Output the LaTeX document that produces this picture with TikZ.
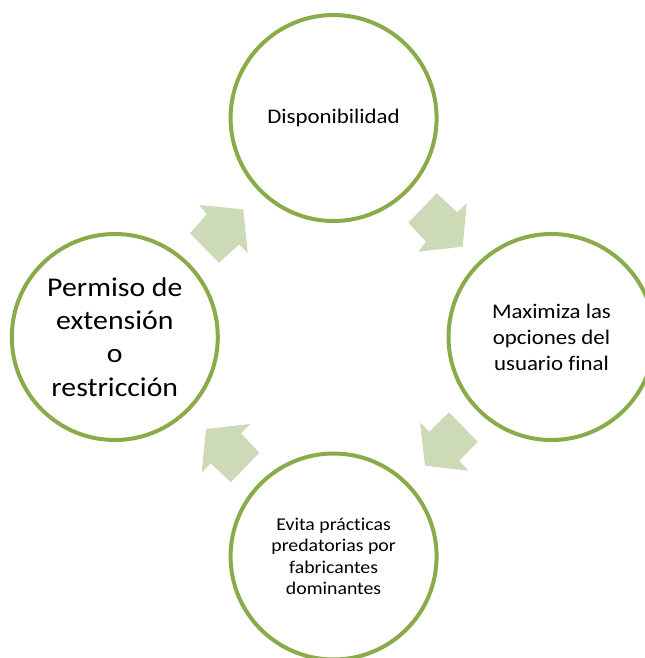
\documentclass[tikz,border=0pt]{standalone}
\usepackage{fontspec}
\setmainfont{Carlito}[FakeStretch=1.1,Ligatures=NoCommon]
\definecolor{ringc}{RGB}{138,171,74}
\definecolor{arrowc}{RGB}{205,218,183}
\begin{document}
\begin{tikzpicture}[x=0.75pt,y=-0.75pt,
  ring/.style={circle,draw=ringc,line width=3pt,minimum size=154.5pt,inner sep=0pt,align=center,text=black},
  blockarrow/.style={fill=arrowc,draw=none}]
\useasboundingbox (0,0) rectangle (645,658);
\node[ring,font=\fontsize{15.6pt}{19.5pt}\selectfont] (disp) at (333.6,118) {Disponibilidad};
\node[ring,font=\fontsize{15.6pt}{19.5pt}\selectfont] (maxi) at (551.5,337) {Maximiza las\\opciones del\\usuario final};
\node[ring,font=\fontsize{13.5pt}{16pt}\selectfont] (evita) at (333.6,556.5) {Evita prácticas\\predatorias por\\fabricantes\\dominantes};
\node[ring,font=\fontsize{20.3pt}{25pt}\selectfont] (perm) at (114.8,337) {Permiso de\\extensión\\o\\restricción};
\fill[blockarrow] (199.3,205) -- (243.3,209.3) -- (247.7,253.3) -- (239.3,244.3) -- (219,262.7) -- (190,233.3) -- (206.7,214.3) -- cycle;
\fill[blockarrow] (436.7,193.3) -- (408.3,222.7) -- (426,241.7) -- (418.3,251.7) -- (462.7,246.7) -- (466.7,203.3) -- (457.3,212.3) -- cycle;
\fill[blockarrow] (449,412.3) -- (477.7,441.7) -- (459.3,460.7) -- (468.3,470.7) -- (425,465.7) -- (420,422.3) -- (429.3,431.7) -- cycle;
\fill[blockarrow] (250,424) -- (206,429) -- (201.7,472.7) -- (210.7,463.3) -- (230.7,482.3) -- (259.3,452.7) -- (241,433.3) -- cycle;
\end{tikzpicture}
\end{document}
